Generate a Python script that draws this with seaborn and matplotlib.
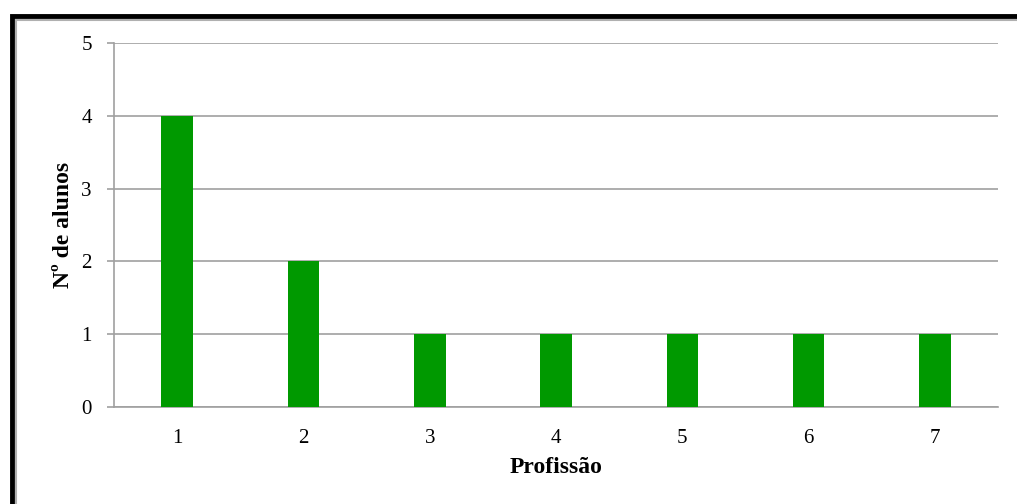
import pandas as pd
import seaborn as sns
import matplotlib.pyplot as plt
from matplotlib.patches import Rectangle

# Data
profissao = ["1", "2", "3", "4", "5", "6", "7"]
n_alunos = [4, 2, 1, 1, 1, 1, 1]

df = pd.DataFrame({"Profissão": profissao, "Nº de alunos": n_alunos})

sns.set_theme(style="white")
plt.rcParams["font.family"] = ["Liberation Serif", "DejaVu Serif"]
plt.rcParams["text.color"] = "black"
plt.rcParams["axes.labelcolor"] = "black"
plt.rcParams["xtick.color"] = "black"
plt.rcParams["ytick.color"] = "black"

fig = plt.figure(figsize=(10.17, 5.04), dpi=100)
ax = fig.add_axes([114 / 1017, 97 / 504, 884 / 1017, 364 / 504])

sns.barplot(data=df, x="Profissão", y="Nº de alunos", color="#009900",
            width=0.25, saturation=1, linewidth=0, ax=ax, zorder=3)

ax.set_ylim(0, 5)
ax.set_yticks(range(0, 6))
ax.yaxis.grid(True, color="#a0a0a0", linewidth=1.2, zorder=0)
for s in ["top", "right"]:
    ax.spines[s].set_visible(False)
for s in ["left", "bottom"]:
    ax.spines[s].set_color("#a0a0a0")
    ax.spines[s].set_linewidth(1.2)

ax.tick_params(axis="y", length=5, width=1.2, color="#a0a0a0", pad=11,
               labelsize=15, left=True, labelcolor="black")
ax.tick_params(axis="x", length=0, pad=16, labelsize=15, labelcolor="black")
ax.set_xlabel("Profissão", fontsize=17, fontweight="bold", labelpad=6)
ax.set_ylabel("Nº de alunos", fontsize=17, fontweight="bold", labelpad=5)

# outer frame
fig.patches.append(Rectangle((12 / 1017, -0.1), 1.2, (504 - 16) / 504 + 0.1,
                             transform=fig.transFigure, fill=False,
                             edgecolor="black", linewidth=3.5))
fig.patches.append(Rectangle((16 / 1017, -0.1), 1.2, (504 - 20) / 504 + 0.1,
                             transform=fig.transFigure, fill=False,
                             edgecolor="#b0b0b0", linewidth=1.5))

fig.savefig("out.png", dpi=100)
plt.close()
